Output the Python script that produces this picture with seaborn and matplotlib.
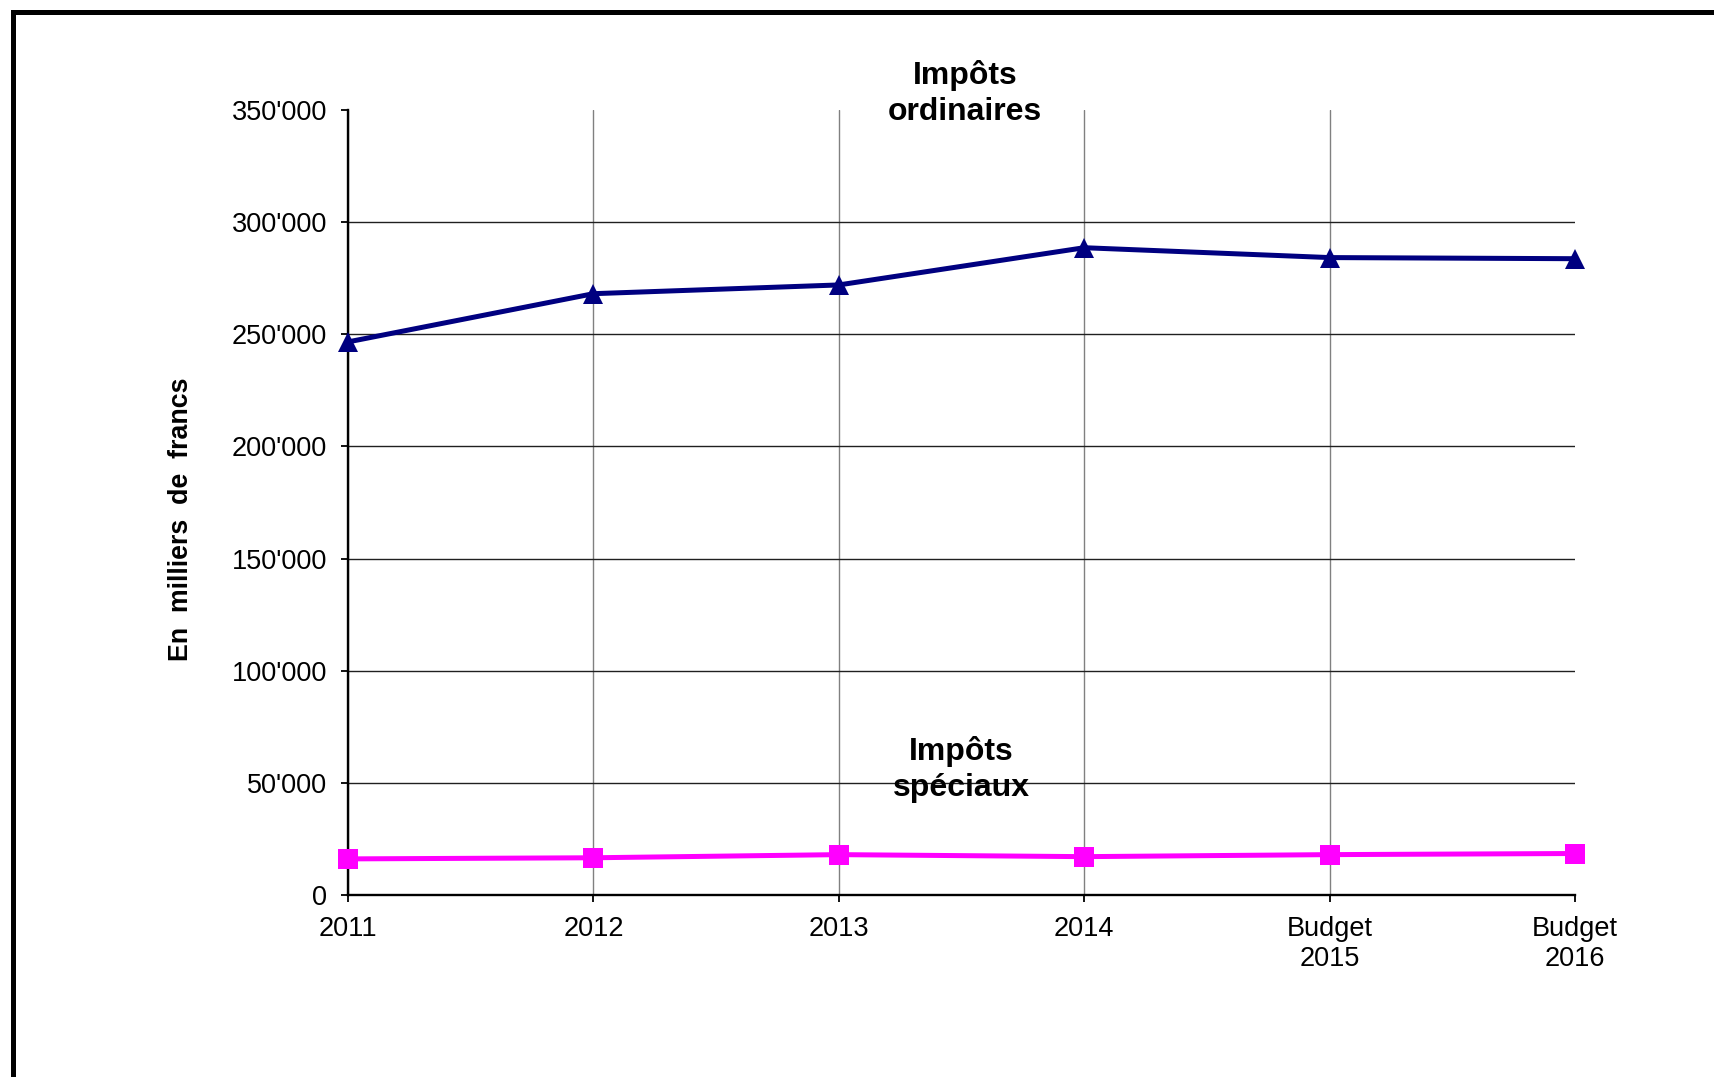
import numpy as np
import pandas as pd
import matplotlib
matplotlib.use('Agg')
import matplotlib.pyplot as plt
import matplotlib.ticker as mticker
from matplotlib.lines import Line2D
import seaborn as sns

# --- data ---
years = ['2011', '2012', '2013', '2014', 'Budget\n2015', 'Budget\n2016']
impots_ordinaires = [246600, 268100, 272000, 288600, 284200, 283700]
impots_speciaux = [16100, 16600, 18000, 17100, 18000, 18500]
y_ticks = [0, 50000, 100000, 150000, 200000, 250000, 300000, 350000]

df = pd.DataFrame({
    'Année': years * 2,
    'Montant': impots_ordinaires + impots_speciaux,
    'Type': ['ordinaires'] * len(years) + ['spéciaux'] * len(years),
})

sns.set_style('white')
plt.rcParams['font.family'] = ['Liberation Sans', 'DejaVu Sans']
plt.rcParams['text.color'] = 'black'
plt.rcParams['axes.labelcolor'] = 'black'

fig = plt.figure(figsize=(17.14, 10.77), dpi=100)
ax = fig.add_axes([348 / 1714, 1 - 895 / 1077, (1575 - 348) / 1714, (895 - 110) / 1077])

sns.lineplot(data=df, x='Année', y='Montant', hue='Type', style='Type',
             palette={'ordinaires': '#000080', 'spéciaux': '#FF00FF'},
             markers={'ordinaires': '^', 'spéciaux': 's'},
             dashes=False, linewidth=3.6, markersize=14, markeredgewidth=0,
             legend=False, ax=ax, clip_on=False, zorder=3)

ax.set_xlim(0, len(years) - 1)
ax.set_ylim(0, 350000)
ax.set_yticks(y_ticks)
ax.yaxis.set_major_formatter(mticker.FuncFormatter(lambda v, p: f"{int(v):,}".replace(',', "'")))

ax.grid(True, axis='y', color='#202020', linewidth=1)
ax.grid(True, axis='x', color='#808080', linewidth=1)
ax.set_axisbelow(True)
ax.yaxis.get_gridlines()[-1].set_visible(False)
ax.xaxis.get_gridlines()[-1].set_visible(False)

for side in ['top', 'right']:
    ax.spines[side].set_visible(False)
for side in ['left', 'bottom']:
    ax.spines[side].set_color('black')
    ax.spines[side].set_linewidth(1.7)

ax.tick_params(axis='both', direction='out', length=5, width=1.3, color='black',
               labelsize=19.5, labelcolor='black', pad=10,
               left=True, bottom=True)

ax.set_xlabel('')
ax.set_ylabel('En  milliers  de  francs', fontsize=19.3, fontweight='bold')
ax.yaxis.set_label_coords(-0.1256, 0.479)

ax.text(2.514, 357500, 'Impôts\nordinaires', ha='center', va='center',
        fontsize=23, fontweight='bold', linespacing=1.25, clip_on=False)
ax.text(2.50, 56000, 'Impôts\nspéciaux', ha='center', va='center',
        fontsize=23, fontweight='bold', linespacing=1.25, clip_on=False)

# outer frame (only left and top edges visible)
fig.add_artist(Line2D([12.5 / 1714, 12.5 / 1714], [0, 1 - 11.5 / 1077],
                      transform=fig.transFigure, color='black', linewidth=3.6,
                      solid_capstyle='projecting'))
fig.add_artist(Line2D([12.5 / 1714, 1], [1 - 11.5 / 1077, 1 - 11.5 / 1077],
                      transform=fig.transFigure, color='black', linewidth=3.6,
                      solid_capstyle='projecting'))

fig.savefig('out.png', dpi=100, facecolor='white')
